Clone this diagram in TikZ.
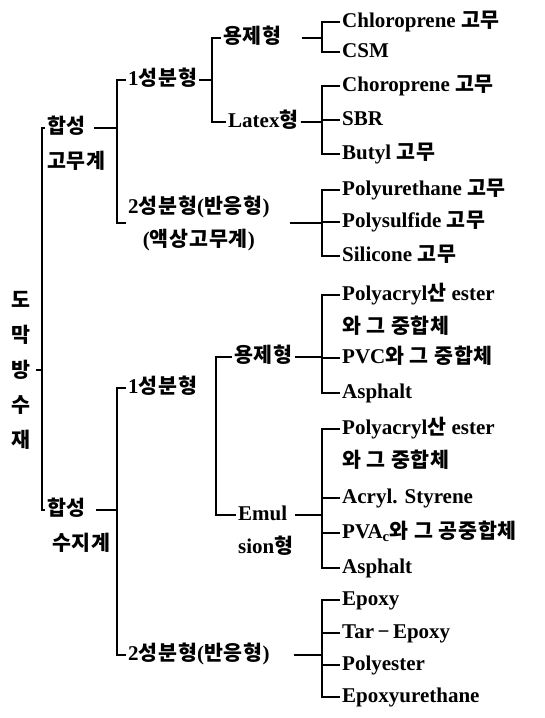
\documentclass[tikz,border=0pt]{standalone}
\usepackage{fontspec}
\setmainfont{Liberation Serif}
\newfontfamily\krfont{Noto Sans CJK KR}[Scale=0.98, LetterSpace=4]
\newcommand{\ko}[1]{{\krfont #1}}
\usepackage{tikz}
\usetikzlibrary{positioning}

\begin{document}
\begin{tikzpicture}[
          x=1pt, y=-1pt,
          every node/.style = {font=\fontsize{21}{33}\selectfont\bfseries,
                               inner sep=2pt, anchor=west},
          lbl/.style = {text height=15pt, text depth=5pt},
          link/.style = {line width=1.6pt},
        ]
        \useasboundingbox (0,0) rectangle (544,718);

        %% Junction columns
        \coordinate (j0) at (42,0);
        \coordinate (j1) at (117,0);
        \coordinate (j2) at (212,0);
        \coordinate (j3) at (216,0);
        \coordinate (jl) at (322,0);

        %% Root
        \node[align=center, font=\fontsize{21}{35}\selectfont\bfseries\krfont] (root) at (9,370)
             {도\\막\\방\\수\\재};

        %% Level 1
        \node[lbl] (rubA) at (45,128) {\ko{합성}};
        \node[lbl] (rubB) at (45,163) {\ko{고무계}};
        \node[lbl] (resA) at (45,510) {\ko{합성}};
        \node[lbl] (resB) at (50,545) {\ko{수지계}};

        %% Level 2
        \node[lbl] (one1) at (126,80) {1\ko{성분형}};
        \node[align=center] (two1) at (126,223) {2\ko{성분형}(\ko{반응형})\\(\ko{액상고무계})};
        \node[lbl] (one2) at (126,388) {1\ko{성분형}};
        \node[lbl] (two2) at (126,655) {2\ko{성분형}(\ko{반응형})};

        %% Level 3
        \node[lbl] (sol1) at (221,38) {\ko{용제형}};
        \node[lbl] (lat1) at (226,122) {Latex\ko{형}};
        \node[lbl] (sol2) at (232,357) {\ko{용제형}};
        \node[lbl] (emA) at (236,515) {Emul};
        \node[lbl, below=9pt of emA.south west, anchor=north west] (emB) {sion\ko{형}};

        %% Leaves, rubber
        \node[lbl] (c1) at (340,22) {Chloroprene \ko{고무}};
        \node[lbl] (c2) at (340,52) {CSM};
        \node[lbl] (c3) at (340,86) {Choroprene \ko{고무}};
        \node[lbl] (c4) at (340,120) {SBR};
        \node[lbl] (c5) at (340,154) {Butyl \ko{고무}};
        \node[lbl] (c6) at (340,190) {Polyurethane \ko{고무}};
        \node[lbl] (c7) at (340,222) {Polysulfide \ko{고무}};
        \node[lbl] (c8) at (340,256) {Silicone \ko{고무}};

        %% Leaves, resin
        \node[lbl] (r1) at (340,295) {Polyacryl\ko{산} ester};
        \node[lbl, below=9pt of r1.south west, anchor=north west] (r1b) {\ko{와 그 중합체}};
        \node[lbl] (r2) at (340,358) {PVC\ko{와 그 중합체}};
        \node[lbl] (r3) at (340,393) {Asphalt};
        \node[lbl] (e1) at (340,429) {Polyacryl\ko{산} ester};
        \node[lbl, below=9pt of e1.south west, anchor=north west] (e1b) {\ko{와 그 중합체}};
        \node[lbl] (e2) at (340,498) {Acryl. Styrene};
        \node[lbl] (e3) at (340,533) {PVA\textsubscript{c}\ko{와 그 공중합체}};
        \node[lbl] (e4) at (340,568) {Asphalt};
        \node[lbl] (p1) at (340,600) {Epoxy};
        \node[lbl] (p2) at (340,633) {Tar\,−\,Epoxy};
        \node[lbl] (p3) at (340,665) {Polyester};
        \node[lbl] (p4) at (340,697) {Epoxyurethane};

        %% Brackets
        \foreach \c in {rubA,resA}
          \draw[link, shorten <=4pt] (root.east) -- (j0 |- root.east) |- (\c.west);
        \foreach \c in {one1,two1}
          \draw[link, shorten <=6pt] (rubA.east) -- (j1 |- rubA.east) |- (\c.west);
        \foreach \c in {one2,two2}
          \draw[link, shorten <=8pt] (resA.east) -- (j1 |- resA.east) |- (\c.west);
        \foreach \c in {sol1,lat1}
          \draw[link] (one1.east) -- (j2 |- one1.east) |- (\c.west);
        \draw[link] (sol2.west) -- (j3 |- sol2.west) |- (emA.west);

        \foreach \c in {c1,c2}
          \draw[link, shorten <=18pt] (sol1.east) -- (jl |- sol1.east) |- (\c.west);
        \foreach \c in {c3,c4,c5}
          \draw[link] (lat1.east) -- (jl |- lat1.east) |- (\c.west);
        \foreach \c in {c6,c7,c8}
          \draw[link, shorten <=18pt] (two1.east) -- (jl |- two1.east) |- (\c.west);
        \foreach \c in {r1,r2,r3}
          \draw[link] (sol2.east) -- (jl |- sol2.east) |- (\c.west);
        \foreach \c in {e1,e2,e3,e4}
          \draw[link, shorten <=6pt] (emA.east) -- (jl |- emA.east) |- (\c.west);
        \foreach \c in {p1,p2,p3,p4}
          \draw[link, shorten <=22pt] (two2.east) -- (jl |- two2.east) |- (\c.west);
      \end{tikzpicture}
\end{document}
